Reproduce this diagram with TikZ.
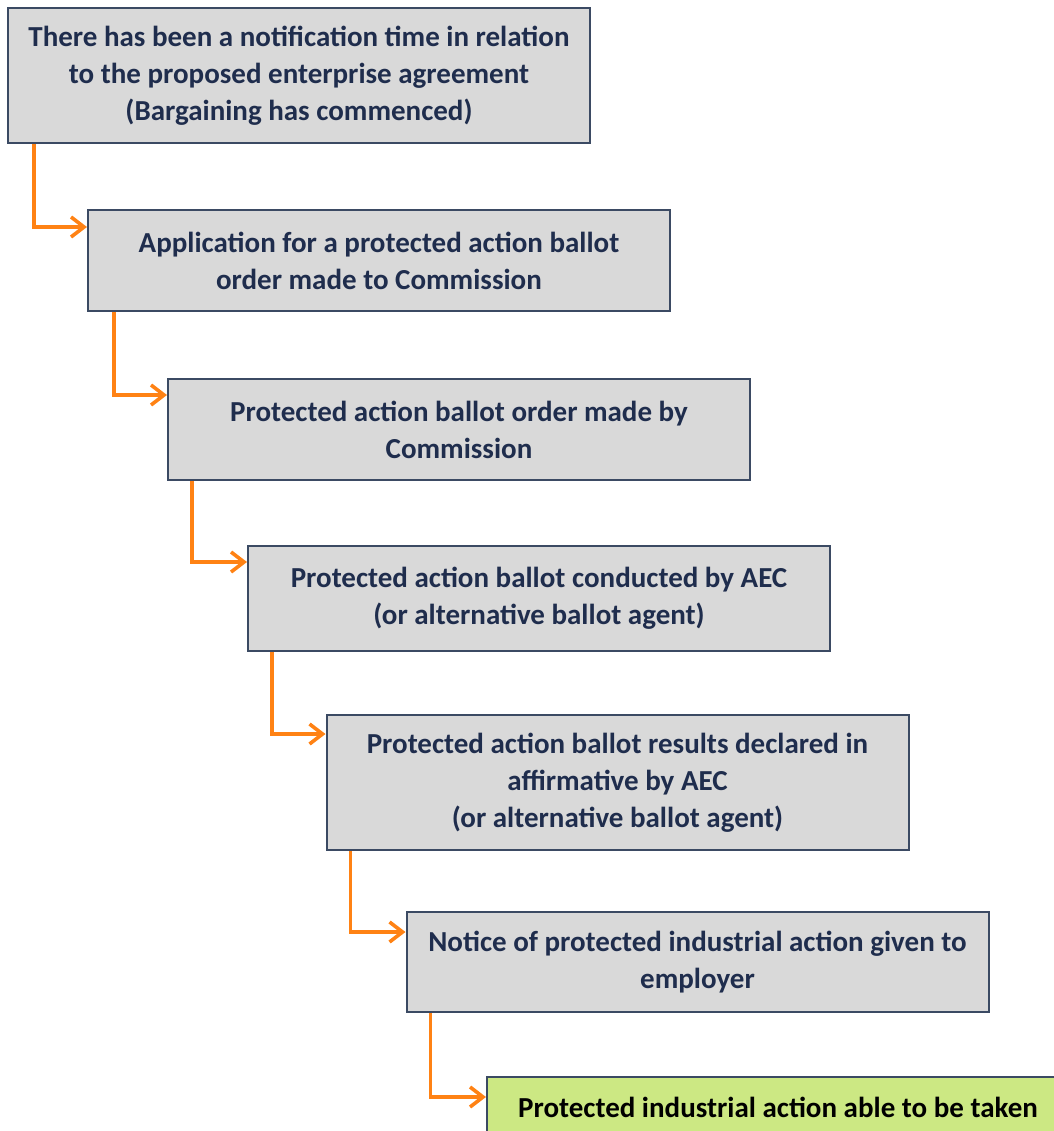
\documentclass[tikz,border=0pt]{standalone}
\usepackage{fontspec}
\setmainfont{Carlito}
\usepackage{tikz}
\usetikzlibrary{arrows.meta, positioning, calc}
\definecolor{boxgray}{HTML}{D9D9D9}
\definecolor{boxline}{HTML}{3B4A63}
\definecolor{boxtext}{HTML}{1F2D4D}
\definecolor{goodgreen}{HTML}{CCE883}
\definecolor{flowline}{HTML}{FF8214}
\begin{document}
\begin{tikzpicture}[x=0.5pt,y=-0.5pt,
    stage/.style={draw=boxline, line width=1pt, fill=boxgray, text=boxtext,
        font=\bfseries\fontsize{14.5}{18.5}\selectfont, align=center,
        minimum width=291pt, inner sep=0pt},
    final/.style={stage, fill=goodgreen, text=black},
    flow/.style={draw=flowline, line width=1.8pt,
        -{Straight Barb[length=6.5pt,width=10pt,line width=1.8pt]}}]

            \useasboundingbox (0,0) rectangle (1054,1131);
            \clip (0,0) rectangle (1054,1131);

            \node[stage, minimum height=67.5pt] (n1) at (299,75.5)
                {There has been a notification time in relation\\to the proposed enterprise agreement\\(Bargaining has commenced)};
            \node[stage, minimum height=50.5pt] (n2) at (379,260.5)
                {Application for a protected action ballot\\order made to Commission};
            \node[stage, minimum height=50.5pt] (n3) at (459,429.5)
                {Protected action ballot order made by\\Commission};
            \node[stage, minimum height=52.5pt] (n4) at (539,598.5)
                {Protected action ballot conducted by AEC\\(or alternative ballot agent)};
            \node[stage, minimum height=67.5pt] (n5) at (617.5,782.5)
                {Protected action ballot results declared in\\affirmative by AEC\\(or alternative ballot agent)};
            \node[stage, minimum height=50pt] (n6) at (697.5,962)
                {Notice of protected industrial action given to\\employer};
            \node[final, minimum height=30pt, anchor=north west] (n7) at (486,1076)
                {Protected industrial action able to be taken};

            % orange steps down the staircase
            \draw[flow] ([xshift=13.5pt]n1.south west) |- ([yshift=-9pt]n2.north west);
            \draw[flow] ([xshift=13.5pt]n2.south west) |- ([yshift=-8.5pt]n3.north west);
            \draw[flow] ([xshift=12.5pt]n3.south west) |- ([yshift=-8.5pt]n4.north west);
            \draw[flow] ([xshift=12.5pt]n4.south west) |- ([yshift=-10pt]n5.north west);
            \draw[flow] ([xshift=12.5pt]n5.south west) |- ([yshift=-10.5pt]n6.north west);
            \draw[flow] ([xshift=12.5pt]n6.south west) |- ([yshift=-10.5pt]n7.north west);

\end{tikzpicture}
\end{document}
